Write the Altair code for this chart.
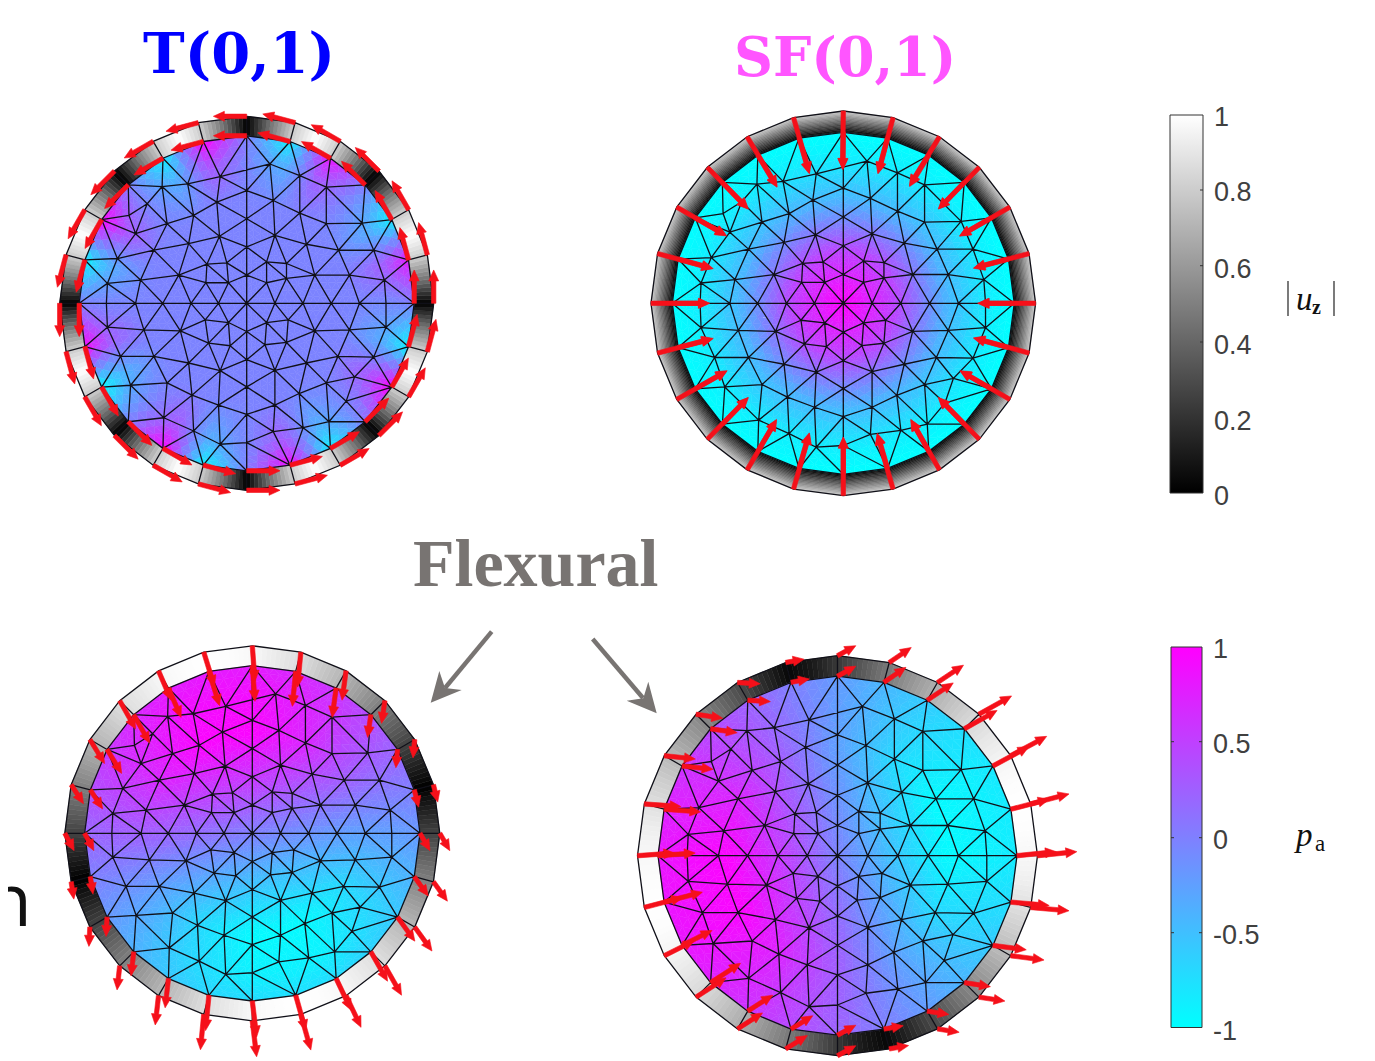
import math
import altair as alt
import pandas as pd

# ---- mesh nodes (crop coordinates, centre 620,610, inner radius 505)
MESH_X = [197,285,367,452,535,620,705,790,875,960,1040,
          620,620,620,620,620,620,620,620,620,
          565,497,415,300,200,680,740,825,930,1035,500,560,680,740,
          445,340,230,800,897,1003,538,705,285,460,380,780,860,968,
          530,700,320,265,442,540,365,860,780,690,
          495,565,680,745,420,310,200,825,930,1040,505,570,675,740,
          445,340,240,800,895,1003,540,705,945,860,380,270,455,778,920,
          535,705,868,370,460,790,700,540]
MESH_Y = [610,610,610,610,610,610,610,610,610,610,610,
          270,355,440,525,695,780,862,945,1030,
          548,548,525,540,550,548,535,525,525,540,492,488,485,490,
          430,450,475,432,450,450,408,405,400,345,370,338,370,368,
          305,300,310,345,250,228,258,260,225,190,
          660,668,668,660,693,690,682,693,690,682,730,738,735,728,
          790,770,770,790,770,772,813,812,832,850,850,857,887,882,905,
          917,917,967,955,995,985,997,1035]

# ---- geometry of each disk: cx, cy, inner radius, outer radius
DISK_CX = [246.7, 843.3, 252.3, 837.5]
DISK_CY = [303.3, 303.3, 833.3, 855.7]
DISK_RI = [167.5, 171, 167.7, 179.5]
DISK_RO = [187, 192.3, 187.5, 200]

# ---- pa values: rows at relative radius 1, .85, .6, .3, 0; first entry is east, going anticlockwise
T_F = [[0,.8,-.9,0,.85,-.9,0,1,-.9,0,1,-.95,0,.95,-1,0,1,-.95,0,.9,-.9,0,1,-.95],
       [-.08,.3,-.4,-.05,.3,-.4,-.05,.35,-.4,-.05,.4,-.4,-.05,.3,-.45,-.05,.35,-.4,-.05,.3,-.4,-.05,.35,-.4],
       [-.03]*12, [-.03]*12, [-.03]]
SF_F = [[-1]*24, [-.88]*12, [-.42]*12, [.48]*12, [1]]
LL_F = [[-.2,0,.21,.4,.57,.69,.77,.8,.77,.69,.57,.4,.2,0,-.2,-.4,-.57,-.69,-.72,-.75,-.72,-.65,-.57,-.4],
        [-.24,.24,.65,.89,.89,.65,.24,-.24,-.65,-.89,-.89,-.65],
        [-.26,.26,.71,.97,.97,.71,.26,-.26,-.71,-.97,-.97,-.71],
        [-.14,.14,.39,.53,.53,.39,.14,-.14,-.39,-.53,-.53,-.39],
        [0]]
LR_F = [[-.85,-.85,-.82,-.74,-.6,-.43,-.22,0,.22,.43,.6,.74,.82,.85,.82,.74,.6,.43,.22,0,-.22,-.43,-.6,-.74],
        [-.89,-.89,-.65,-.24,.24,.65,.89,.89,.65,.24,-.24,-.65],
        [-.97,-.97,-.71,-.26,.26,.71,.97,.97,.71,.26,-.26,-.71],
        [-.53,-.53,-.39,-.14,.14,.39,.53,.53,.39,.14,-.14,-.39],
        [-.02]]
FIELDS = [T_F, SF_F, LL_F, LR_F]
F_RADII = [1.0, .85, .6, .3, 0.0]

# ---- |uz| round the ring, every 7.5 degrees from east, anticlockwise
T_U = [0,.45,.8,1,.8,.45] * 8
SF_U = [1] * 48
LL_U = [.26,.13,0,.13,.26,.38,.5,.61,.71,.79,.87,.92,.97,.99,1,.99,.97,.92,.87,.79,.71,.61,.5,.38] * 2
LR_U = [.97,.99,1,.99,.96,.91,.85,.77,.68,.58,.47,.35,.22,.1,.03,.16,.29,.41,.53,.63,.73,.81,.88,.94] * 2
UZ = [T_U, SF_U, LL_U, LR_U]
UZ_IN = [1, 0, 1, 1]
UZ_OUT = [1, .78, 1, 1]
RING_ANG = [6, 1, 5, 5]
RING_BANDS = [1, 16, 1, 1]

# ---- arrows at each rim node from east, anticlockwise (crop pixels, 3 per image pixel; y down)
T_VX = [0,-26,-50,-71,-87,-97,-100,-97,-87,-71,-50,-26,0,26,50,71,87,97,100,97,87,71,50,26]
T_VY = [-100,-97,-87,-71,-50,-26,0,26,50,71,87,97,100,97,87,71,50,26,0,-26,-50,-71,-87,-97]
SF_VX = [-172,-165,-150,-122,-90,-45,-2,48,90,122,148,165,175,165,150,122,88,48,0,-48,-85,-122,-148,-165]
SF_VY = [0,43,86,125,147,167,175,167,150,125,85,45,0,-43,-85,-125,-150,-167,-175,-165,-150,-125,-85,-45]
LL_VX = [30,13,-5,-10,-12,-10,8,32,38,48,44,37,28,8,-3,-8,-10,-10,13,30,45,50,52,42]
LL_VY = [52,52,55,68,88,105,107,103,88,85,72,57,52,52,58,72,88,106,108,107,95,88,72,58]
LR_VX = [118,115,108,98,78,66,55,55,68,80,93,110,112,115,90,90,75,65,55,58,65,78,100,115]
LR_VY = [-12,-30,-58,-55,-52,-45,-30,-10,4,12,10,8,-8,-30,-45,-58,-48,-40,-30,-10,10,12,13,10]
VX = [T_VX, SF_VX, LL_VX, LR_VX]
VY = [T_VY, SF_VY, LL_VY, LR_VY]
INNER_ARROW = [1, .64, 1, 1]

# ---- text and colour bars
TITLE_TEXT = ["T(0,1)", "SF(0,1)"]
TITLE_X = [143, 734]
TITLE_Y = [73, 76]
TITLE_S = [56, 54]
TITLE_C = ["#0000ff", "#ff55ff"]
UZ_LABELS = ["1", "0.8", "0.6", "0.4", "0.2", "0"]
UZ_LABEL_Y = [116, 191, 268, 344, 420, 495]
PA_LABELS = ["1", "0.5", "0", "-0.5", "-1"]
PA_LABEL_Y = [648, 743, 839, 934, 1030]


def delaunay(pts):
    big = 1e3
    p = [(q[0] + 1e-5 * ((i * 7) % 11 - 5), q[1] + 1e-5 * ((i * 5) % 13 - 6)) for i, q in enumerate(pts)]
    n = len(p)
    p = p + [(-big, -big), (big, -big), (0.3, big)]
    tris = [(n, n + 1, n + 2)]

    def incirc(t, q):
        ax, ay = p[t[0]][0] - q[0], p[t[0]][1] - q[1]
        bx, by = p[t[1]][0] - q[0], p[t[1]][1] - q[1]
        cx, cy = p[t[2]][0] - q[0], p[t[2]][1] - q[1]
        d = ((ax * ax + ay * ay) * (bx * cy - cx * by)
             - (bx * bx + by * by) * (ax * cy - cx * ay)
             + (cx * cx + cy * cy) * (ax * by - bx * ay))
        o = ((p[t[1]][0] - p[t[0]][0]) * (p[t[2]][1] - p[t[0]][1])
             - (p[t[1]][1] - p[t[0]][1]) * (p[t[2]][0] - p[t[0]][0]))
        return d * (1 if o > 0 else -1) > 0

    for i in range(n):
        bad = [t for t in tris if incirc(t, p[i])]
        edges = {}
        for t in bad:
            for a, b in ((t[0], t[1]), (t[1], t[2]), (t[2], t[0])):
                k = (min(a, b), max(a, b))
                edges[k] = edges.get(k, 0) + 1
        tris = [t for t in tris if t not in bad]
        for (a, b), c in edges.items():
            if c == 1:
                tris.append((a, b, i))
    return [t for t in tris if max(t) < n]


rim = [(math.cos(math.radians(15 * k)), -math.sin(math.radians(15 * k))) for k in range(24)]
nodes = rim + [((x - 620) / 505, (y - 610) / 505) for x, y in zip(MESH_X, MESH_Y)]
tris = delaunay(nodes)


def field(F, nx, ny):
    r = min(1.0, math.hypot(nx, ny))
    a = math.degrees(math.atan2(-ny, nx)) % 360

    def row(vals):
        if len(vals) == 1:
            return vals[0]
        s = 360 / len(vals)
        i = int(a // s)
        t = a / s - i
        return vals[i % len(vals)] * (1 - t) + vals[(i + 1) % len(vals)] * t

    for k in range(len(F_RADII) - 1):
        if r >= F_RADII[k + 1]:
            t = (r - F_RADII[k + 1]) / (F_RADII[k] - F_RADII[k + 1])
            return row(F[k]) * t + row(F[k + 1]) * (1 - t)
    return row(F[-1])


def poly(pts, v):
    c = [list(q) for q in pts] + [list(pts[0])]
    return {"type": "Feature", "geometry": {"type": "Polygon", "coordinates": [c]}, "properties": {"v": round(v, 3)}}


cells, ring, edges, arrows = [], [], [], []
SUB = 4
for d in range(4):
    cx, cy, ri, ro = DISK_CX[d], DISK_CY[d], DISK_RI[d], DISK_RO[d]
    F = FIELDS[d]
    P = lambda q: (round(cx + q[0] * ri, 2), round(cy + q[1] * ri, 2))
    seen = set()
    lines = []
    for t in tris:
        A, B, C = nodes[t[0]], nodes[t[1]], nodes[t[2]]

        def bary(i, j):
            k = SUB - i - j
            return ((A[0] * i + B[0] * j + C[0] * k) / SUB, (A[1] * i + B[1] * j + C[1] * k) / SUB)

        for i in range(SUB):
            for j in range(SUB - i):
                q = [bary(i + 1, j), bary(i, j + 1), bary(i, j)]
                v = sum(field(F, *z) for z in q) / 3
                cells.append(poly([P(z) for z in q], v))
                if i + j < SUB - 1:
                    q = [bary(i + 1, j), bary(i, j + 1), bary(i + 1, j + 1)]
                    v = sum(field(F, *z) for z in q) / 3
                    cells.append(poly([P(z) for z in q], v))
        for a, b in ((t[0], t[1]), (t[1], t[2]), (t[2], t[0])):
            k = (min(a, b), max(a, b))
            if k not in seen:
                seen.add(k)
                lines.append([list(P(nodes[a])), list(P(nodes[b]))])

    # ring: cells between inner and outer rim polygon
    U = UZ[d]
    BANDS = RING_BANDS[d]
    ANG = RING_ANG[d]

    def ringpt(pos, t):
        k = int(pos // 2) % 24
        f = pos / 2 - pos // 2
        a, b = rim[k], rim[(k + 1) % 24]
        ux, uy = a[0] * (1 - f) + b[0] * f, a[1] * (1 - f) + b[1] * f
        rad = ri + (ro - ri) * t
        return (round(cx + ux * rad, 2), round(cy + uy * rad, 2))

    for k in range(48):
        for h in range(ANG):
            s0, s1 = k + h / ANG, k + (h + 1) / ANG
            base = U[k] * (1 - (h + .5) / ANG) + U[(k + 1) % 48] * (h + .5) / ANG
            for b in range(BANDS):
                t0, t1 = b / BANDS, (b + 1) / BANDS
                tm = (t0 + t1) / 2
                fac = UZ_IN[d] + (UZ_OUT[d] - UZ_IN[d]) * tm
                ring.append(poly([ringpt(s0, t0), ringpt(s1, t0), ringpt(s1, t1), ringpt(s0, t1)], base * fac))
    outer = [list(ringpt(k * 2, 1)) for k in range(24)]
    outer.append(outer[0])
    inner = [list(ringpt(k * 2, 0)) for k in range(24)]
    inner.append(inner[0])
    lines += [outer, inner]
    for k in range(24):
        lines.append([list(ringpt(k * 2, 0)), list(ringpt(k * 2, 1))])
    lines.append([[cx - ri, cy], [cx + ri, cy]])
    lines.append([[cx, cy - ri], [cx, cy + ri]])
    edges.append({"type": "Feature", "geometry": {"type": "MultiLineString", "coordinates": lines}, "properties": {"v": 0}})

    # arrows from both rims
    for k in range(24):
        for rad, fac in ((ro, 1), (ri, INNER_ARROW[d])):
            tx, ty = cx + rim[k][0] * rad, cy + rim[k][1] * rad
            dx, dy = VX[d][k] / 3 * fac, VY[d][k] / 3 * fac
            L = math.hypot(dx, dy)
            ux, uy = dx / L, dy / L
            nx, ny = -uy, ux
            hl, hw, w = 11, 5, 2.2
            neck = (tx + dx - ux * hl, ty + dy - uy * hl)
            arrows.append(poly([
                (tx + nx * w, ty + ny * w), (neck[0] + nx * w, neck[1] + ny * w),
                (neck[0] + nx * hw, neck[1] + ny * hw), (tx + dx, ty + dy),
                (neck[0] - nx * hw, neck[1] - ny * hw), (neck[0] - nx * w, neck[1] - ny * w),
                (tx - nx * w, ty - ny * w)], 1))

X = alt.Scale(domain=[8, 1367])
Y = alt.Scale(domain=[1061, 8])
cool = alt.Scale(domain=[-1, 1], range=["#00ffff", "#ff00ff"], interpolate="rgb")
gray = alt.Scale(domain=[0, 1], range=["#000000", "#ffffff"], interpolate="rgb")


def geo(features, **kw):
    return alt.Chart(alt.Data(values=features)).mark_geoshape(**kw).project(type="identity", scale=1, translate=[-8, -8])


ring_layer = geo(ring, strokeWidth=.5).encode(
    color=alt.Color("properties.v:Q", scale=gray, legend=None),
    stroke=alt.Stroke("properties.v:Q", scale=gray, legend=None))
cell_layer = geo(cells, strokeWidth=.5).encode(
    color=alt.Color("properties.v:Q", scale=cool, legend=None),
    stroke=alt.Stroke("properties.v:Q", scale=cool, legend=None))
edge_layer = geo(edges, filled=False, stroke="#101018", strokeWidth=1.3)
arrow_layer = geo(arrows, fill="#f5101a", stroke="#f5101a", strokeWidth=.6)

# grey arrows
GRAY = "#787472"
G_X1, G_Y1, G_X2, G_Y2 = [491.7, 592.7], [631.7, 639], [445, 643], [688, 698]
gray_shafts = alt.Chart(pd.DataFrame({"x": G_X1, "y": G_Y1, "x2": G_X2, "y2": G_Y2})).mark_rule(
    color=GRAY, strokeWidth=4.4).encode(
    x=alt.X("x:Q", scale=X, axis=None), y=alt.Y("y:Q", scale=Y, axis=None), x2="x2:Q", y2="y2:Q")
gray_heads = geo([
    poly([(430.7, 702.7), (439.3, 671), (445, 688), (461.7, 690)], 0),
    poly([(656.7, 713.3), (648.3, 681.7), (643.3, 698.3), (626.7, 700.7)], 0)], fill=GRAY)


def text(xs, ys, ss, size, color="#404040", font="Liberation Sans", align="left", **kw):
    df = pd.DataFrame({"x": xs, "y": ys, "t": ss})
    return alt.Chart(df).mark_text(align=align, baseline="alphabetic", font=font, fontSize=size, color=color, **kw).encode(
        x=alt.X("x:Q", scale=X, axis=None), y=alt.Y("y:Q", scale=Y, axis=None), text="t:N")


titles = [text([TITLE_X[i]], [TITLE_Y[i]], [TITLE_TEXT[i]], TITLE_S[i], TITLE_C[i], "DejaVu Serif", fontWeight="bold") for i in range(2)]
flex = text([413], [586], ["Flexural"], 68, GRAY, "Liberation Serif", fontWeight="bold")
stub = text([32], [926], ["n"], 74, "#111111", "Open Sans", align="right")


def bar(x0, x1, y0, y1, grad):
    df = pd.DataFrame({"x": [x0], "x2": [x1], "y": [y0], "y2": [y1]})
    return alt.Chart(df).mark_rect(color=grad, stroke="#333333", strokeWidth=1).encode(
        x=alt.X("x:Q", scale=X, axis=None), x2="x2:Q", y=alt.Y("y:Q", scale=Y, axis=None), y2="y2:Q")


uz_bar = bar(1170, 1203, 115, 493, alt.Gradient(gradient="linear", x1=0, x2=0, y1=0, y2=1, stops=[
    alt.GradientStop(color="#ffffff", offset=0), alt.GradientStop(color="#000000", offset=1)]))
pa_bar = bar(1171, 1202, 647, 1027.5, alt.Gradient(gradient="linear", x1=0, x2=0, y1=0, y2=1, stops=[
    alt.GradientStop(color="#ff00ff", offset=0), alt.GradientStop(color="#00ffff", offset=1)]))

T_X1 = [1200, 1200, 1200, 1171, 1171, 1171, 1199, 1199, 1199]
T_X2 = [1203, 1203, 1203, 1174, 1174, 1174, 1202, 1202, 1202]
T_Y = [190, 265.7, 342, 741.7, 837.7, 932.7, 741.7, 837.7, 932.7]
ticks = alt.Chart(pd.DataFrame({"x": T_X1, "x2": T_X2, "y": T_Y})).mark_rule(color="#333333", strokeWidth=1).encode(
    x=alt.X("x:Q", scale=X, axis=None), x2="x2:Q", y=alt.Y("y:Q", scale=Y, axis=None))

uz_text = text([1214] * 6, [y + 10 for y in UZ_LABEL_Y], UZ_LABELS, 27)
pa_text = text([1213] * 5, [y + 10 for y in PA_LABEL_Y], PA_LABELS, 27)

B_X = [1288, 1334]
bars = alt.Chart(pd.DataFrame({"x": B_X, "y": [281, 281], "y2": [316, 316]})).mark_rule(color="#222222", strokeWidth=1.2).encode(
    x=alt.X("x:Q", scale=X, axis=None), y=alt.Y("y:Q", scale=Y, axis=None), y2="y2:Q")
u_sym = text([1296], [310], ["u"], 33, "#111111", "Liberation Serif", fontStyle="italic")
z_sym = text([1312], [314], ["z"], 20, "#111111", "Liberation Serif", fontWeight="bold")
p_sym = text([1296], [846], ["p"], 33, "#111111", "Liberation Serif", fontStyle="italic")
a_sym = text([1315], [851], ["a"], 23, "#111111", "Liberation Serif")

chart = alt.layer(
    ring_layer, cell_layer, edge_layer, arrow_layer,
    gray_shafts, gray_heads, *titles, flex, stub,
    uz_bar, pa_bar, ticks, uz_text, pa_text, bars, u_sym, z_sym, p_sym, a_sym,
).resolve_scale(color="independent", stroke="independent").properties(
    width=1359, height=1053, padding=0, background="white",
    autosize=alt.AutoSizeParams(type="none", contains="content")
).configure_view(stroke=None)

chart.save("out.html", embed_options={"renderer": "svg", "actions": False})
